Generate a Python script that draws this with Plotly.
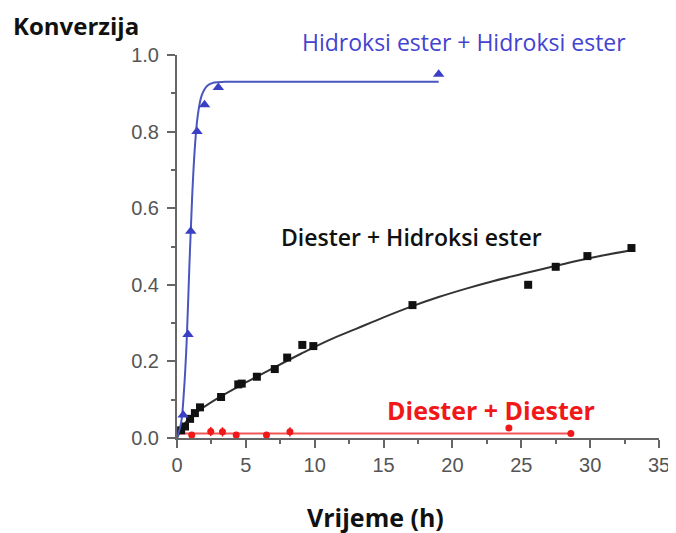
import plotly.graph_objects as go

BLUE = "#3b3fc4"
BLUE_TEXT = "#4343d0"
BLUE_LINE = "#4a56c0"
RED = "#f01818"
RED_LINE = "#f25555"
BLACK = "#111111"
AXIS_COLOR = "#666666"
TICK_FONT_COLOR = "#555555"

# Hidroksi ester + Hidroksi ester (triangles)
hh_x = [0.45, 0.8, 1.0, 1.45, 2.0, 3.0, 19.0]
hh_y = [0.06, 0.27, 0.54, 0.80, 0.87, 0.915, 0.95]
hh_fit_x = [0, 0.3, 0.5, 0.7, 0.9, 1.1, 1.3, 1.5, 1.8, 2.2, 2.7, 3.5, 5, 10, 19]
hh_fit_y = [0, 0.04, 0.12, 0.25, 0.45, 0.63, 0.76, 0.84, 0.895, 0.92, 0.928, 0.93, 0.93, 0.93, 0.93]

# Diester + Hidroksi ester (squares)
dh_x = [0.3, 0.58, 0.95, 1.3, 1.67, 3.2, 4.45, 4.7, 5.8, 7.1, 8.0, 9.1, 9.9, 17.1, 25.5, 27.5, 29.8, 33.0]
dh_y = [0.02, 0.03, 0.05, 0.065, 0.08, 0.107, 0.14, 0.142, 0.16, 0.18, 0.21, 0.243, 0.24, 0.347, 0.40, 0.447, 0.475, 0.496]
dh_fit_x = [0, 0.5, 1, 2, 3, 5, 7, 9, 11, 13, 15, 17, 19, 21, 23, 25, 27, 29, 31, 33]
dh_fit_y = [0, 0.035, 0.055, 0.082, 0.105, 0.145, 0.183, 0.22, 0.255, 0.285, 0.315, 0.343, 0.368, 0.39, 0.41, 0.428, 0.445, 0.462, 0.477, 0.49]

# Diester + Diester (circles)
dd_x = [1.07, 2.45, 3.3, 4.3, 6.5, 8.2, 24.1, 28.6]
dd_y = [0.008, 0.017, 0.016, 0.008, 0.008, 0.016, 0.026, 0.012]
dd_err = [0.0, 0.012, 0.012, 0.0, 0.0, 0.012, 0.0, 0.0]
dd_fit_x = [0, 28.6]
dd_fit_y = [0.012, 0.012]

x_ticks = [0, 5, 10, 15, 20, 25, 30, 35]
y_ticks = [0.0, 0.2, 0.4, 0.6, 0.8, 1.0]

fig = go.Figure()

fig.add_trace(go.Scatter(x=dd_fit_x, y=dd_fit_y, mode="lines",
                         line=dict(color=RED_LINE, width=2), hoverinfo="skip"))
fig.add_trace(go.Scatter(x=dd_x, y=dd_y, mode="markers",
                         marker=dict(symbol="circle", size=7, color=RED),
                         error_y=dict(type="data", array=dd_err, color=RED, thickness=1.5, width=0)))

fig.add_trace(go.Scatter(x=dh_fit_x, y=dh_fit_y, mode="lines", line_shape="spline",
                         line=dict(color="#333333", width=2), hoverinfo="skip"))
fig.add_trace(go.Scatter(x=dh_x, y=dh_y, mode="markers",
                         marker=dict(symbol="square", size=8, color=BLACK)))

fig.add_trace(go.Scatter(x=hh_fit_x, y=hh_fit_y, mode="lines", line_shape="spline",
                         line=dict(color=BLUE_LINE, width=2), hoverinfo="skip"))
fig.add_trace(go.Scatter(x=hh_x, y=hh_y, mode="markers",
                         marker=dict(symbol="triangle-up", size=10, color=BLUE)))

for tr in fig.data:
    tr.cliponaxis = False

# page body has an 8px margin, so the figure is 8px smaller and margins compensate
fig.add_annotation(text="Konverzija", xref="paper", yref="paper", x=-0.345, y=1.078,
                   xanchor="left", yanchor="middle", showarrow=False,
                   font=dict(family="Open Sans", size=24, color=BLACK, weight="bold"))
fig.add_annotation(text="Hidroksi ester + Hidroksi ester", xref="paper", yref="paper", x=0.595, y=1.034,
                   xanchor="center", yanchor="middle", showarrow=False,
                   font=dict(family="Open Sans", size=23, color=BLUE_TEXT))
fig.add_annotation(text="Diester + Hidroksi ester", xref="x", yref="y", x=17.0, y=0.525,
                   xanchor="center", yanchor="middle", showarrow=False,
                   font=dict(family="Open Sans", size=23, color=BLACK, weight=600))
fig.add_annotation(text="Diester + Diester", xref="x", yref="y", x=22.8, y=0.073,
                   xanchor="center", yanchor="middle", showarrow=False,
                   font=dict(family="Open Sans", size=25, color=RED, weight="bold"))
fig.add_annotation(text="Vrijeme (h)", xref="x", yref="paper", x=14.4, y=-0.206,
                   xanchor="center", yanchor="middle", showarrow=False,
                   font=dict(family="Open Sans", size=25, color=BLACK, weight="bold"))

fig.update_layout(
    width=668, height=525,
    showlegend=False,
    plot_bgcolor="#ffffff",
    paper_bgcolor="#ffffff",
    margin=dict(l=169, r=17, t=47, b=95),
    xaxis=dict(
        range=[0, 35], tickvals=x_ticks, ticks="outside", ticklen=8, tickwidth=2,
        tickcolor=AXIS_COLOR, showline=True, linecolor=AXIS_COLOR, linewidth=2,
        showgrid=False, zeroline=False, automargin=False,
        tickfont=dict(family="Liberation Sans", size=20, color=TICK_FONT_COLOR),
        minor=dict(ticks="outside", ticklen=4, dtick=2.5, tickcolor=AXIS_COLOR, tickwidth=2),
    ),
    yaxis=dict(
        range=[0, 1.0], tickvals=y_ticks, tickformat=".1f", ticks="outside", ticklen=8,
        tickwidth=2, tickcolor=AXIS_COLOR, showline=True, linecolor=AXIS_COLOR, linewidth=2,
        showgrid=False, zeroline=False, automargin=False, ticklabelstandoff=4,
        tickfont=dict(family="Liberation Sans", size=20, color=TICK_FONT_COLOR),
        minor=dict(ticks="outside", ticklen=4, dtick=0.1, tickcolor=AXIS_COLOR, tickwidth=2),
    ),
)

fig.write_html("out.html")
